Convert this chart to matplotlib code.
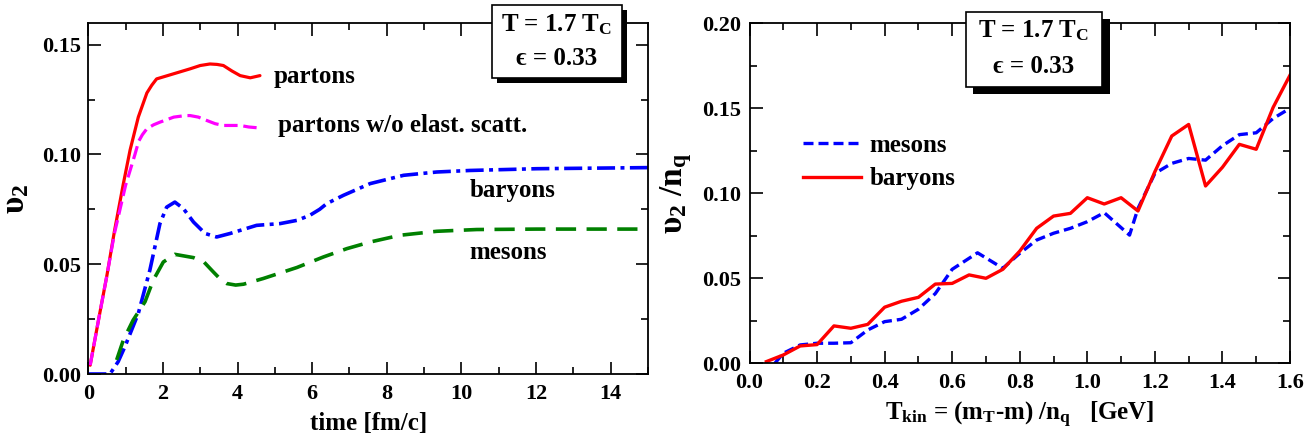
import matplotlib
matplotlib.use('Agg')
import matplotlib.pyplot as plt
from matplotlib.ticker import MultipleLocator, FormatStrFormatter
from matplotlib.patches import Rectangle

# ---------------- data: left panel (v2 vs time) ----------------
t_partons = [0.05, 0.3, 0.5, 0.7, 0.94, 1.12, 1.34, 1.57, 1.7, 1.83, 2.28, 2.73, 3.0, 3.26,
             3.45, 3.62, 3.85, 4.07, 4.34, 4.6]
v_partons = [0.004, 0.027, 0.045, 0.065, 0.0867, 0.102, 0.117, 0.128, 0.1315, 0.1344, 0.1367,
             0.139, 0.1405, 0.1412, 0.141, 0.1405, 0.138, 0.1359, 0.1349, 0.1359]

t_noel = [0.05, 0.3, 0.5, 0.7, 0.85, 1.0, 1.12, 1.25, 1.35, 1.45, 1.57, 1.75, 1.92, 2.29,
          2.6, 2.73, 2.95, 3.17, 3.4, 3.62, 3.85, 4.07, 4.3, 4.56]
v_noel = [0.004, 0.027, 0.045, 0.064, 0.075, 0.086, 0.0927, 0.100, 0.106, 0.109, 0.1117,
          0.1135, 0.1147, 0.117, 0.1177, 0.1177, 0.117, 0.1155, 0.1140, 0.1132, 0.1132,
          0.1132, 0.1125, 0.1121]

t_baryons = [0.0, 0.3, 0.58, 0.8, 0.98, 1.34, 1.65, 1.92, 2.1, 2.32, 2.55, 2.82, 3.13, 3.44,
             3.8, 4.51, 5.14, 5.6, 5.94, 6.2, 6.39, 6.84, 7.55, 8.45, 9.34, 10.23, 12.02, 15.0]
v_baryons = [0.0, 0.0, 0.0, 0.0056, 0.0124, 0.0276, 0.0473, 0.0685, 0.076, 0.0783, 0.0753,
             0.0692, 0.064, 0.0624, 0.064, 0.0677, 0.0685, 0.070, 0.0723, 0.075, 0.0776,
             0.0814, 0.0867, 0.0905, 0.092, 0.0927, 0.0935, 0.094]

t_mesons = [0.76, 0.94, 1.2, 1.52, 1.74, 2.01, 2.32, 2.82, 3.1, 3.35, 3.55, 3.71, 3.95, 4.16,
            4.69, 5.59, 6.3, 6.93, 7.55, 8.36, 9.34, 10.41, 12.02, 15.0]
v_mesons = [0.0064, 0.0155, 0.0245, 0.0329, 0.0427, 0.051, 0.0545, 0.053, 0.051, 0.0465,
            0.043, 0.0412, 0.0405, 0.0409, 0.0435, 0.0485, 0.0533, 0.0571, 0.0601, 0.0632,
            0.065, 0.0658, 0.066, 0.066]

# ---------------- data: right panel (v2/nq vs Tkin) ----------------
tk_baryons = [0.05, 0.10, 0.15, 0.20, 0.25, 0.30, 0.35, 0.40, 0.45, 0.50, 0.55, 0.60, 0.65,
              0.70, 0.75, 0.80, 0.85, 0.90, 0.95, 1.00, 1.05, 1.10, 1.15, 1.20, 1.25, 1.30,
              1.35, 1.40, 1.45, 1.50, 1.55, 1.60]
vq_baryons = [0.001, 0.0049, 0.0102, 0.011, 0.022, 0.0206, 0.0229, 0.033, 0.0365, 0.0388,
              0.0466, 0.047, 0.052, 0.050, 0.0553, 0.066, 0.0794, 0.0866, 0.0882, 0.0974,
              0.0937, 0.0974, 0.0896, 0.1127, 0.1337, 0.1405, 0.1043, 0.1153, 0.1288, 0.1259,
              0.1505, 0.1695]

tk_mesons = [0.075, 0.10, 0.15, 0.20, 0.25, 0.30, 0.35, 0.40, 0.45, 0.50, 0.55, 0.60, 0.675,
             0.75, 0.80, 0.85, 0.90, 0.95, 1.00, 1.05, 1.125, 1.15, 1.20, 1.25, 1.30, 1.35,
             1.40, 1.45, 1.50, 1.55, 1.60]
vq_mesons = [0.0, 0.0059, 0.0108, 0.0118, 0.0118, 0.0121, 0.0196, 0.0245, 0.0259, 0.0318,
             0.041, 0.0553, 0.065, 0.0559, 0.0647, 0.0725, 0.0765, 0.0794, 0.0833, 0.0886,
             0.0754, 0.0911, 0.1117, 0.1176, 0.1205, 0.1195, 0.128, 0.1345, 0.1356, 0.144,
             0.150]

box_lines = ["T = 1.7 T$_{\\mathbf{C}}$", "\u03f5 = 0.33"]

# ---------------- style ----------------
plt.rcParams['font.family'] = ['Liberation Serif', 'DejaVu Serif']
plt.rcParams['font.weight'] = 'bold'
plt.rcParams['axes.labelweight'] = 'bold'
plt.rcParams['mathtext.fontset'] = 'custom'
plt.rcParams['mathtext.rm'] = 'Liberation Serif:bold'
plt.rcParams['mathtext.bf'] = 'Liberation Serif:bold'
plt.rcParams['mathtext.it'] = 'Liberation Serif:bold'

W, H = 1315, 440
fig = plt.figure(figsize=(W / 100, H / 100), dpi=100)


def fx(px):
    return px / W


def fy(py):
    return 1 - py / H


ax1 = fig.add_axes([fx(88.3), fy(374), fx(648) - fx(88.3), fy(22.7) - fy(374)])
ax2 = fig.add_axes([fx(749.5), fy(363.3), fx(1290) - fx(749.5), fy(23.3) - fy(363.3)])

for ax in (ax1, ax2):
    for s in ax.spines.values():
        s.set_linewidth(1.3)
    ax.tick_params(which='both', direction='in', top=True, right=True, width=1.2,
                   labelsize=16)
    ax.tick_params(which='major', length=9)
    ax.tick_params(which='minor', length=5)

# ---------- left panel ----------
ax1.plot(t_partons, v_partons, color='#ff0000', lw=2.3, solid_capstyle='round')
ax1.plot(t_noel, v_noel, color='#ff00ff', lw=2.3, dashes=(4.2, 1.8))
ax1.plot(t_baryons, v_baryons, color='#0000ff', lw=2.6, dashes=(5.0, 1.5, 1.1, 1.5))
ax1.plot(t_mesons, v_mesons, color='#008000', lw=2.6, dashes=(5.6, 2.9))

ax1.set_xlim(0, 15)
ax1.set_ylim(0, 0.16)
ax1.xaxis.set_major_locator(MultipleLocator(2))
ax1.xaxis.set_minor_locator(MultipleLocator(1))
ax1.yaxis.set_major_locator(MultipleLocator(0.05))
ax1.yaxis.set_minor_locator(MultipleLocator(0.025))
ax1.xaxis.set_major_formatter(FormatStrFormatter('%d'))
ax1.yaxis.set_major_formatter(FormatStrFormatter('%.2f'))
ax1.tick_params(axis='x', pad=7)
ax1.tick_params(axis='y', pad=5)
ax1.set_xlabel('time [fm/c]', fontsize=18, labelpad=6)
ax1.set_ylabel('\u03c5$_{\\mathbf{2}}$', fontsize=24, labelpad=8)

ax1.text(4.98, 0.1327, 'partons', fontsize=18, va='baseline', ha='left')
ax1.text(5.08, 0.1101, 'partons w/o elast. scatt.', fontsize=18, va='baseline', ha='left')
ax1.text(10.23, 0.0806, 'baryons', fontsize=18, va='baseline', ha='left')
ax1.text(10.2, 0.0526, 'mesons', fontsize=18, va='baseline', ha='left')

# ---------- right panel ----------
ax2.plot(tk_mesons, vq_mesons, color='#0000ff', lw=2.4, dashes=(3.0, 1.5), label='mesons')
ax2.plot(tk_baryons, vq_baryons, color='#ff0000', lw=2.4, label='baryons')
ax2.set_xlim(0, 1.6)
ax2.set_ylim(0, 0.2)
ax2.xaxis.set_major_locator(MultipleLocator(0.2))
ax2.xaxis.set_minor_locator(MultipleLocator(0.1))
ax2.yaxis.set_major_locator(MultipleLocator(0.05))
ax2.yaxis.set_minor_locator(MultipleLocator(0.025))
ax2.xaxis.set_major_formatter(FormatStrFormatter('%.1f'))
ax2.yaxis.set_major_formatter(FormatStrFormatter('%.2f'))
ax2.tick_params(axis='x', pad=7)
ax2.tick_params(axis='y', pad=6)
ax2.set_xlabel('T$_{\\mathbf{kin}}$ = (m$_{\\mathbf{T}}$-m) /n$_{\\mathbf{q}}$   [GeV]',
               fontsize=18, labelpad=5)
ax2.set_ylabel('\u03c5$_{\\mathbf{2}}$ /n$_{\\mathbf{q}}$', fontsize=24, labelpad=6)

ax2.legend(loc='upper left', bbox_to_anchor=(fx(803), fy(134)), bbox_transform=fig.transFigure,
           frameon=False, fontsize=18, handlelength=2.3, handletextpad=0.35, borderpad=0,
           borderaxespad=0, labelspacing=0.42)


# ---------- framed text boxes with shadow ----------
def shadow_box(x0, y0, x1, y1, off, base1, base2):
    fig.add_artist(Rectangle((fx(x0 + off), fy(y1 + off)), fx(x1 - x0), fy(y0) - fy(y1),
                             transform=fig.transFigure, facecolor='black', edgecolor='none',
                             zorder=10))
    fig.add_artist(Rectangle((fx(x0), fy(y1)), fx(x1 - x0), fy(y0) - fy(y1),
                             transform=fig.transFigure, facecolor='white', edgecolor='black',
                             lw=1.2, zorder=11))
    xc = (x0 + x1) / 2
    fig.text(fx(xc), fy(base1), box_lines[0], fontsize=18, ha='center', va='baseline',
             zorder=12)
    fig.text(fx(xc), fy(base2), box_lines[1], fontsize=18, ha='center', va='baseline',
             zorder=12)


shadow_box(491.7, 5, 622.3, 78.3, 5, 31.7, 65)
shadow_box(965.7, 11.7, 1102.3, 86.7, 7.5, 37.3, 73.3)

fig.savefig('out.png', dpi=100)
